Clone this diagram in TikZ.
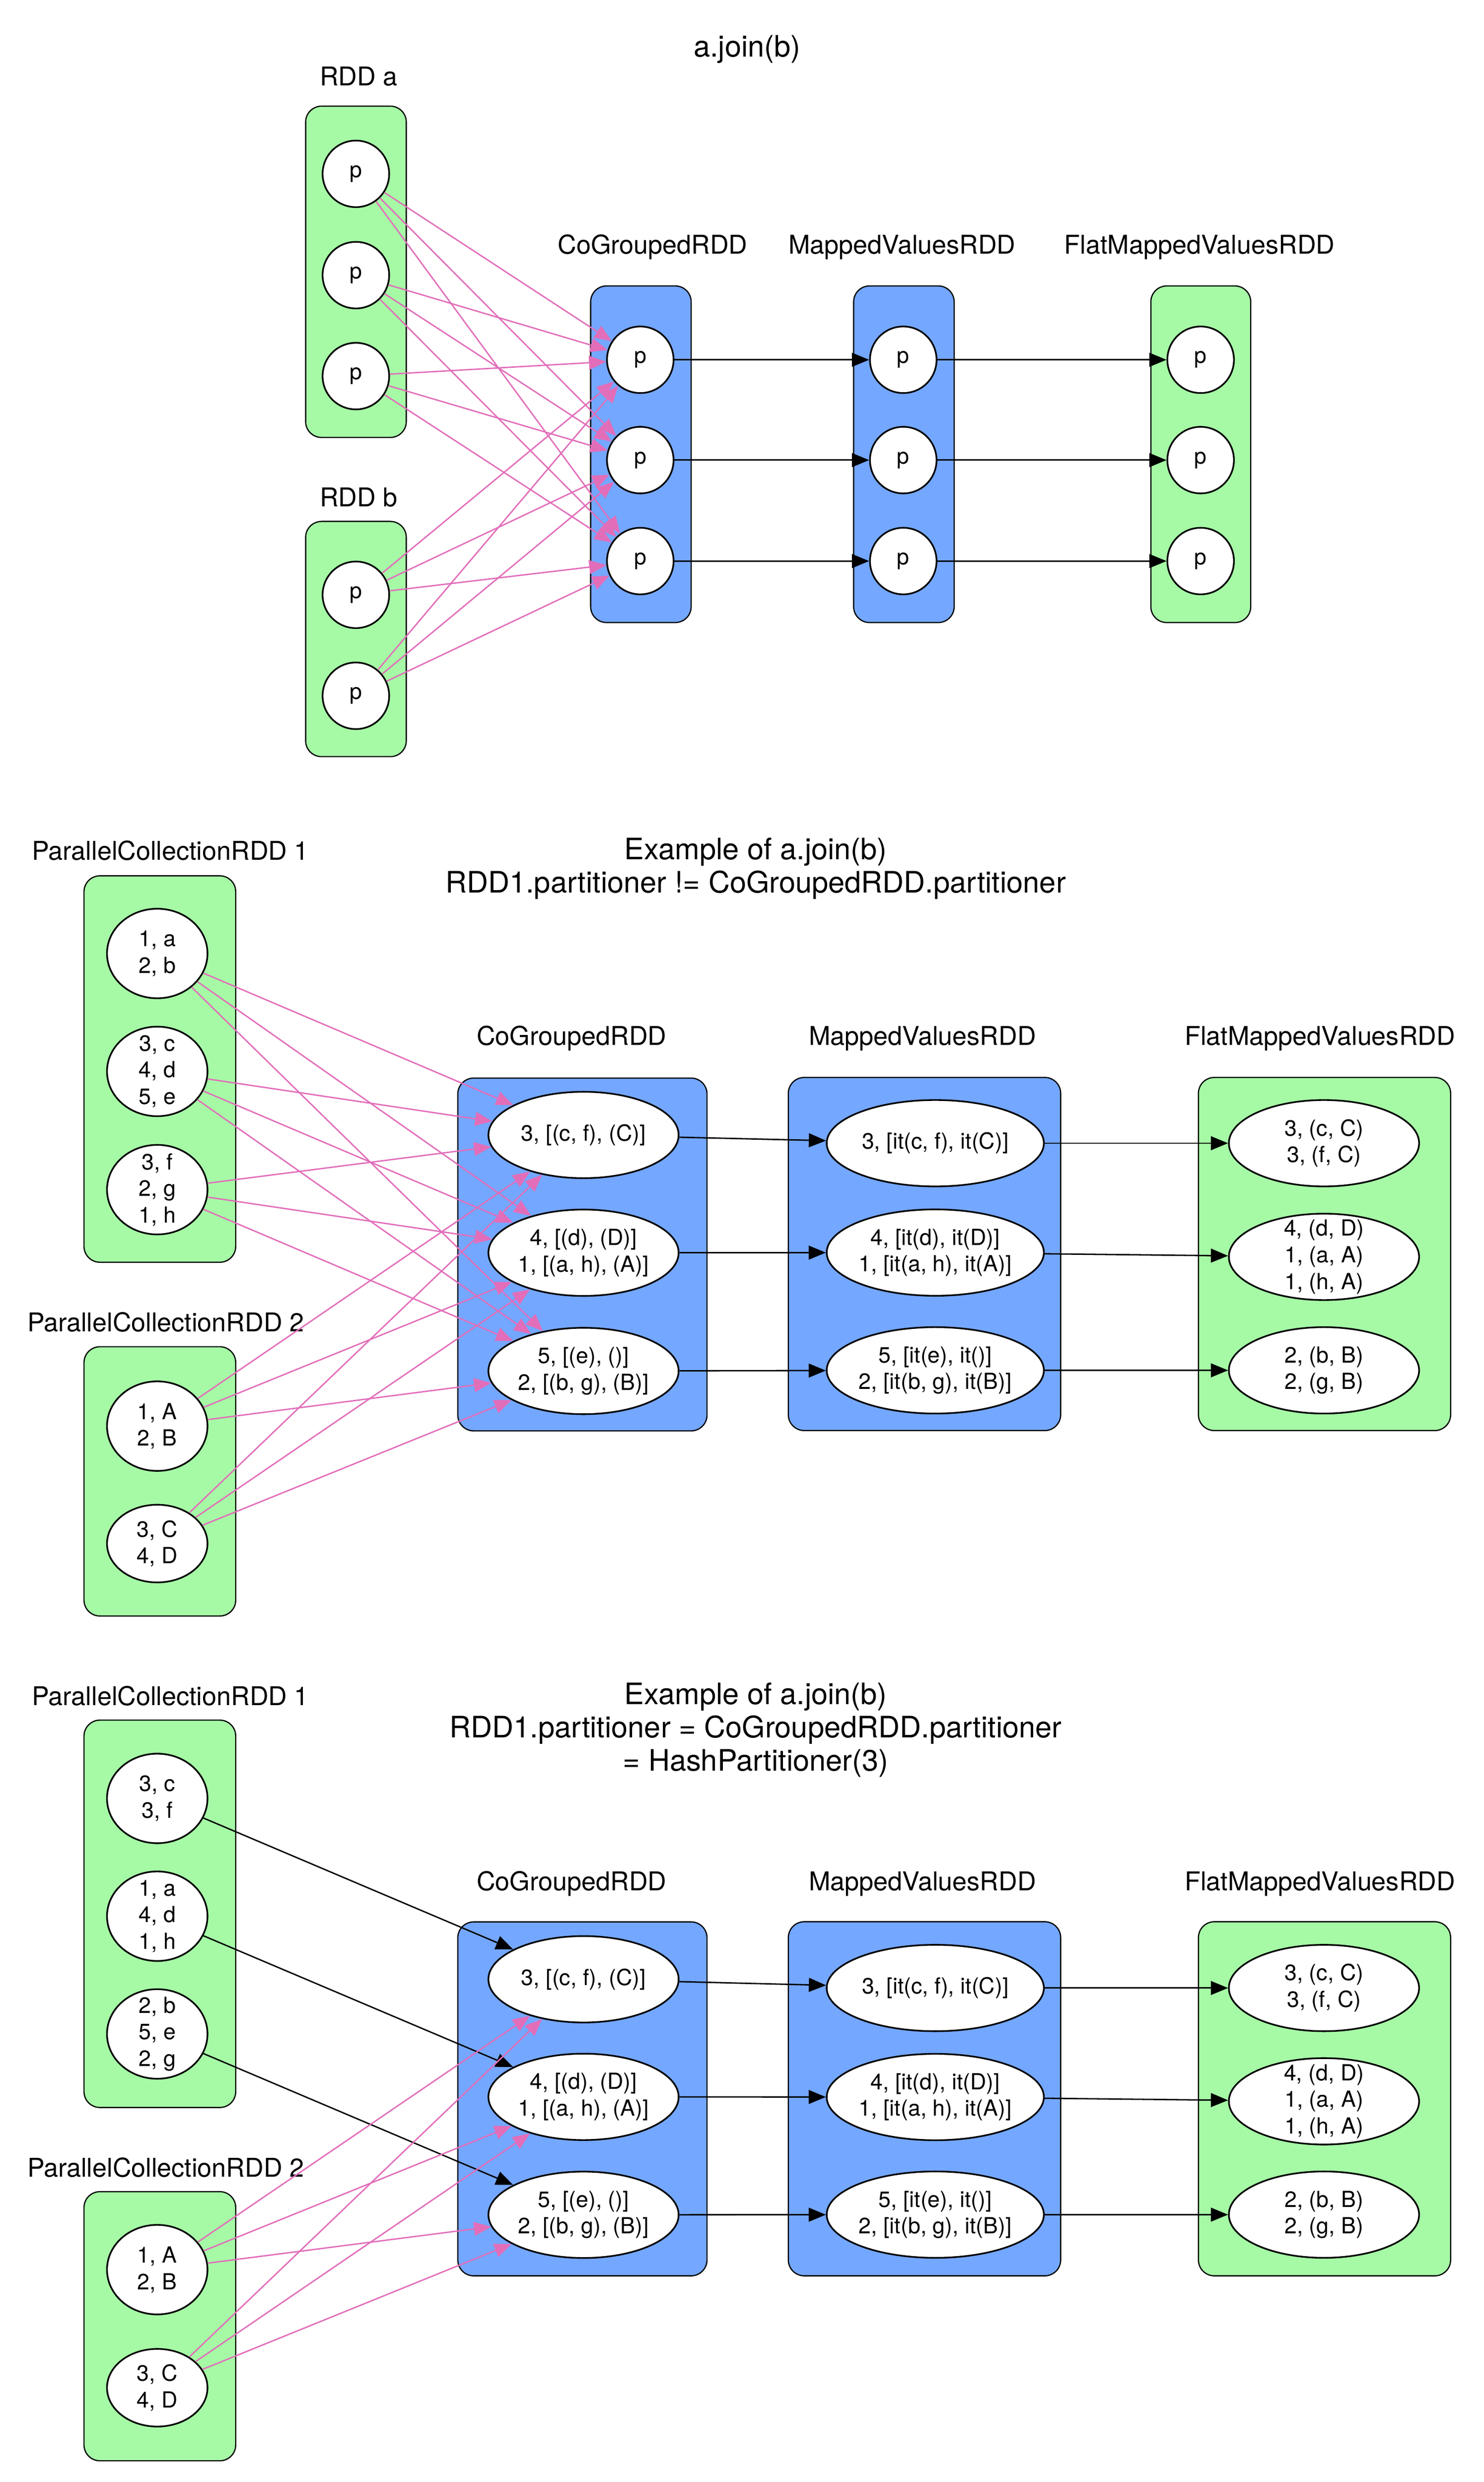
\documentclass[tikz,border=0pt]{standalone}
\usepackage{fontspec}
\setmainfont{TeX Gyre Heros}
\usetikzlibrary{shapes.geometric,arrows.meta}
\definecolor{rddgreen}{RGB}{166,250,166}
\definecolor{rddblue}{RGB}{116,167,255}
\definecolor{rddpink}{RGB}{226,110,186}
\def\U{0.8576pt}
\tikzset{
  grp/.style={draw=black, line width=0.65pt, rounded corners=8.6pt, inner sep=0pt},
  gbox/.style={grp, fill=rddgreen},
  bbox/.style={grp, fill=rddblue},
  part/.style={ellipse, draw=black, fill=white, line width=0.9pt, inner sep=0pt,
    font=\fontsize{12}{14.4}\selectfont, align=center},
  pp/.style={part, minimum width=42*\U, minimum height=42*\U},
  pcn/.style={part, minimum width=63.4*\U, minimum height=56.5*\U},
  cgn/.style={part, minimum width=120*\U, minimum height=54.5*\U},
  mvn/.style={part, minimum width=137*\U, minimum height=54.5*\U},
  fmn/.style={part, minimum width=120*\U, minimum height=54.5*\U},
  three/.style={inner ysep=-4pt},
  lbl/.style={font=\fontsize{14}{16.8}\selectfont, anchor=base, inner sep=0pt},
  ttl/.style={font=\fontsize{16}{18}\selectfont, anchor=base, align=center, inner sep=0pt},
  pe/.style={draw=rddpink, line width=0.75pt, -{Triangle[length=9.3pt,width=7.5pt]}},
  be/.style={draw=black, line width=0.75pt, -{Triangle[length=9.3pt,width=7.5pt]}},
}
\begin{document}
\begin{tikzpicture}[x=0.8576pt, y=-0.8576pt]
\useasboundingbox[fill=white] (0,0) rectangle (936,1566);

% ===================== Section 1 =====================
\node[ttl] (t1) at (471.3,36) {a.join(b)};
\node[lbl] (lra) at (226.2,54) {RDD a};
\node[lbl] (lrb) at (226.2,319.6) {RDD b};
\node[lbl] (lc1) at (411.7,160.3) {CoGroupedRDD};
\node[lbl] (lm1) at (569,160.3) {MappedValuesRDD};
\node[lbl] (lf1) at (756.7,160.3) {FlatMappedValuesRDD};

\node[gbox, minimum width=63.5*\U, minimum height=209*\U] (ra) at (224.55,171.5) {};
\node[gbox, minimum width=63.5*\U, minimum height=148.4*\U] (rb) at (224.55,403.2) {};
\node[bbox, minimum width=63.4*\U, minimum height=212.4*\U] (cg1) at (404.3,286.6) {};
\node[bbox, minimum width=63.4*\U, minimum height=212.4*\U] (mv1) at (570.2,286.6) {};
\node[gbox, minimum width=63*\U, minimum height=212.4*\U] (fm1) at (757.5,286.6) {};

\node[pp] (a1) at (224.5,109.7) {p};
\node[pp] (a2) at (224.5,173.6) {p};
\node[pp] (a3) at (224.5,237.3) {p};
\node[pp] (b1) at (224.5,375.3) {p};
\node[pp] (b2) at (224.5,439) {p};
\node[pp] (c1) at (403.9,227) {p};
\node[pp] (c2) at (403.9,290.3) {p};
\node[pp] (c3) at (403.9,354) {p};
\node[pp] (m1) at (569.8,227) {p};
\node[pp] (m2) at (569.8,290.3) {p};
\node[pp] (m3) at (569.8,354) {p};
\node[pp] (f1) at (757.4,227) {p};
\node[pp] (f2) at (757.4,290.3) {p};
\node[pp] (f3) at (757.4,354) {p};

\foreach \s in {a1,a2,a3,b1,b2}
  \foreach \d in {c1,c2,c3}
    \draw[pe] (\s) -- (\d);
\foreach \i in {1,2,3} {
  \draw[be] (c\i) -- (m\i);
  \draw[be] (m\i) -- (f\i);
}

% ===================== Section 2 =====================
\node[ttl] (t2) at (476.7,563.3) {Example of a.join(b)\\RDD1.partitioner != CoGroupedRDD.partitioner};
\node[lbl] (lp21) at (107.5,542.5) {ParallelCollectionRDD 1};
\node[lbl] (lp22) at (104.5,840.3) {ParallelCollectionRDD 2};
\node[lbl] (lc2) at (360.6,659.4) {CoGroupedRDD};
\node[lbl] (lm2) at (581.9,659.4) {MappedValuesRDD};
\node[lbl] (lf2) at (832.7,659.4) {FlatMappedValuesRDD};

\node[gbox, minimum width=95.7*\U, minimum height=243.8*\U] (pc21) at (100.85,674.5) {};
\node[gbox, minimum width=95.7*\U, minimum height=169.9*\U] (pc22) at (100.85,934.65) {};
\node[bbox, minimum width=157.2*\U, minimum height=222.6*\U] (cg2) at (367.4,791.5) {};
\node[bbox, minimum width=171.8*\U, minimum height=222.8*\U] (mv2) at (583.2,791.2) {};
\node[gbox, minimum width=159.1*\U, minimum height=222.8*\U] (fm2) at (835.55,791.2) {};

\node[pcn] (s2p1) at (99.2,601.6) {1, a\\2, b};
\node[pcn, three] (s2p2) at (99.2,676) {3, c\\4, d\\5, e};
\node[pcn, three] (s2p3) at (99.2,750.6) {3, f\\2, g\\1, h};
\node[pcn] (s2q1) at (99.2,899.8) {1, A\\2, B};
\node[pcn, minimum height=49*\U] (s2q2) at (99.2,973.9) {3, C\\4, D};

\node[cgn] (s2c1) at (368.1,716.1) {3, [(c, f), (C)]};
\node[cgn] (s2c2) at (368.1,790.4) {4, [(d), (D)]\\1, [(a, h), (A)]};
\node[cgn] (s2c3) at (368.1,865) {5, [(e), ()]\\2, [(b, g), (B)]};
\node[mvn] (s2m1) at (590,721.3) {3, [it(c, f), it(C)]};
\node[mvn] (s2m2) at (590,790.3) {4, [it(d), it(D)]\\1, [it(a, h), it(A)]};
\node[mvn] (s2m3) at (590,864.6) {5, [it(e), it()]\\2, [it(b, g), it(B)]};
\node[fmn] (s2f1) at (835.2,721.3) {3, (c, C)\\3, (f, C)};
\node[fmn, three] (s2f2) at (835.2,793) {4, (d, D)\\1, (a, A)\\1, (h, A)};
\node[fmn] (s2f3) at (835.2,864.6) {2, (b, B)\\2, (g, B)};

\foreach \s in {s2p1,s2p2,s2p3,s2q1,s2q2}
  \foreach \d in {s2c1,s2c2,s2c3}
    \draw[pe] (\s) -- (\d);
\foreach \i in {1,2,3} {
  \draw[be] (s2c\i) -- (s2m\i);
  \draw[be] (s2m\i) -- (s2f\i);
}

% ===================== Section 3 =====================
\node[ttl] (t3) at (476.7,1117.4) {Example of a.join(b)\\RDD1.partitioner = CoGroupedRDD.partitioner\\= HashPartitioner(3)};
\node[lbl] (lp31) at (107.5,1076) {ParallelCollectionRDD 1};
\node[lbl] (lp32) at (104.5,1373.5) {ParallelCollectionRDD 2};
\node[lbl] (lc3) at (360.6,1192.7) {CoGroupedRDD};
\node[lbl] (lm3) at (581.9,1192.7) {MappedValuesRDD};
\node[lbl] (lf3) at (832.7,1192.7) {FlatMappedValuesRDD};

\node[gbox, minimum width=95.7*\U, minimum height=244.4*\U] (pc31) at (100.85,1207.5) {};
\node[gbox, minimum width=95.7*\U, minimum height=169.8*\U] (pc32) at (100.85,1467.7) {};
\node[bbox, minimum width=157.2*\U, minimum height=223.3*\U] (cg3) at (367.4,1324.25) {};
\node[bbox, minimum width=171.8*\U, minimum height=223.4*\U] (mv3) at (583.2,1324.2) {};
\node[gbox, minimum width=159.1*\U, minimum height=223.4*\U] (fm3) at (835.55,1324.2) {};

\node[pcn] (s3p1) at (99.2,1134.7) {3, c\\3, f};
\node[pcn, three] (s3p2) at (99.2,1209) {1, a\\4, d\\1, h};
\node[pcn, three] (s3p3) at (99.2,1283.3) {2, b\\5, e\\2, g};
\node[pcn] (s3q1) at (99.2,1432) {1, A\\2, B};
\node[pcn, minimum height=49*\U] (s3q2) at (99.2,1506.5) {3, C\\4, D};

\node[cgn] (s3c1) at (368.1,1248.8) {3, [(c, f), (C)]};
\node[cgn] (s3c2) at (368.1,1323) {4, [(d), (D)]\\1, [(a, h), (A)]};
\node[cgn] (s3c3) at (368.1,1397.4) {5, [(e), ()]\\2, [(b, g), (B)]};
\node[mvn] (s3m1) at (590,1254.3) {3, [it(c, f), it(C)]};
\node[mvn] (s3m2) at (590,1323.1) {4, [it(d), it(D)]\\1, [it(a, h), it(A)]};
\node[mvn] (s3m3) at (590,1397.3) {5, [it(e), it()]\\2, [it(b, g), it(B)]};
\node[fmn] (s3f1) at (835.2,1254.3) {3, (c, C)\\3, (f, C)};
\node[fmn, three] (s3f2) at (835.2,1325.8) {4, (d, D)\\1, (a, A)\\1, (h, A)};
\node[fmn] (s3f3) at (835.2,1397.3) {2, (b, B)\\2, (g, B)};

\draw[be] (s3p1) -- (s3c1);
\draw[be] (s3p2) -- (s3c2);
\draw[be] (s3p3) -- (s3c3);
\foreach \s in {s3q1,s3q2}
  \foreach \d in {s3c1,s3c2,s3c3}
    \draw[pe] (\s) -- (\d);
\foreach \i in {1,2,3} {
  \draw[be] (s3c\i) -- (s3m\i);
  \draw[be] (s3m\i) -- (s3f\i);
}
\end{tikzpicture}
\end{document}
